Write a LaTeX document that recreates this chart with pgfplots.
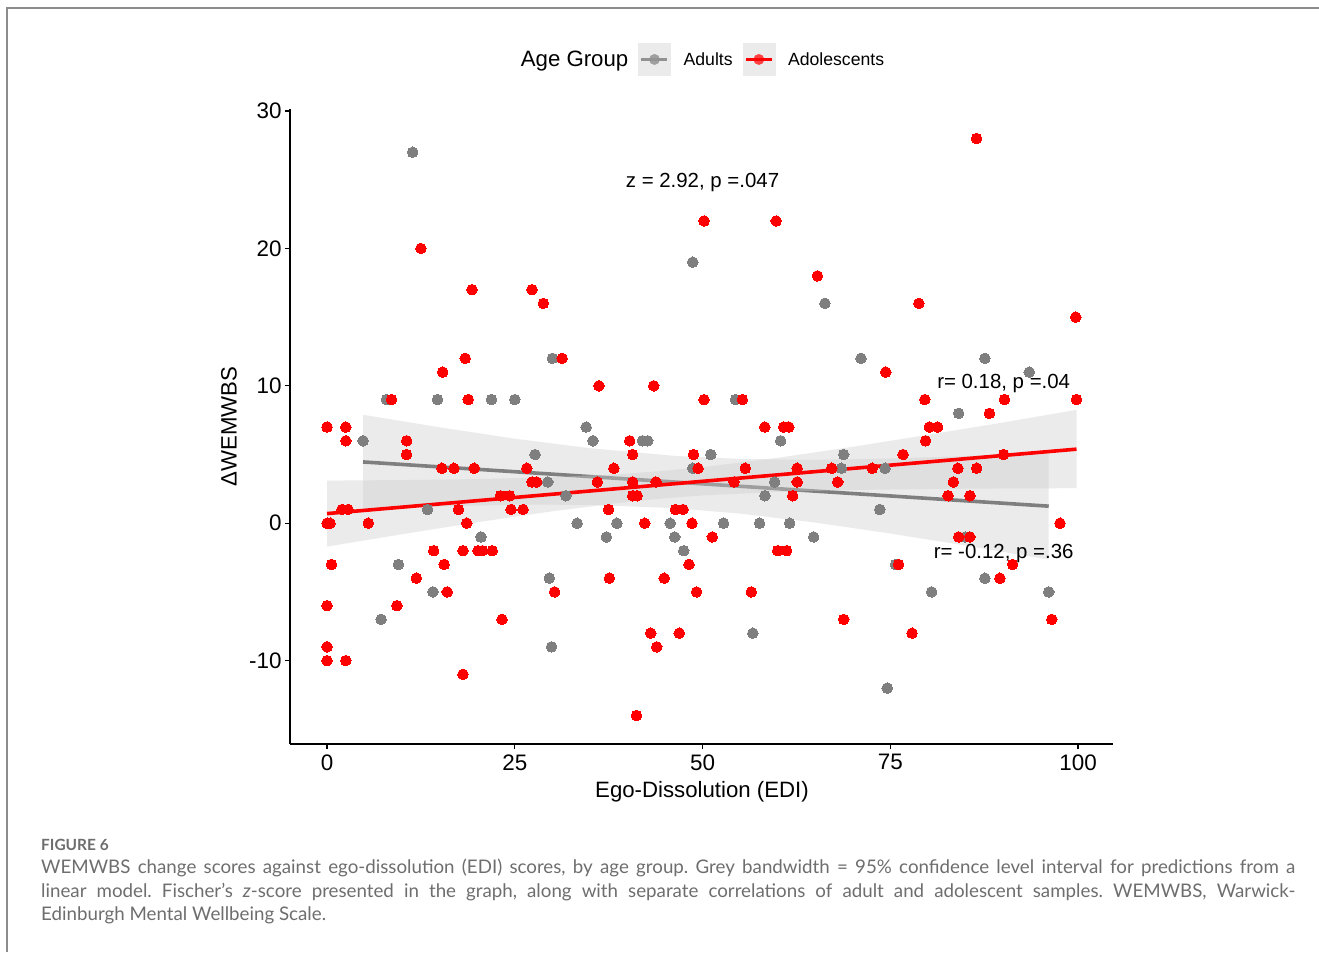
\documentclass[border=0pt]{standalone}
\usepackage{pgfplots}
\pgfplotsset{compat=1.18}
\usepackage{fontspec}
\setmainfont{Liberation Sans}
\newfontfamily\capfont{Lato}
\definecolor{adultgrey}{RGB}{127,127,127}
\definecolor{adolred}{RGB}{255,0,0}
\definecolor{bandfill}{RGB}{205,205,205}
\definecolor{keybg}{RGB}{235,235,235}
\definecolor{capgrey}{RGB}{110,110,110}
\definecolor{framegrey}{RGB}{140,140,140}
\begin{document}
\frenchspacing
\begin{tikzpicture}[x=1bp,y=1bp]
\useasboundingbox (0,0) rectangle (1319,952);
\fill[white] (0,0) rectangle (1319,952);
\draw[framegrey, line width=1.3bp] (7,0) -- (7,944) -- (1319,944);
\begin{axis}[
  at={(290bp,208bp)}, anchor=south west,
  scale only axis, width=823bp, height=635bp,
  xmin=-4.93, xmax=104.66, ymin=-16.07, ymax=30.15,
  axis lines=left, axis line style={-, line width=1.4bp, black},
  xtick={0,25,50,75,100}, ytick={-10,0,10,20,30},
  tick align=outside, major tick length=5bp, tick style={line width=1.2bp, black},
  ticklabel style={font=\fontsize{22.5}{24}\selectfont},
  xticklabel style={yshift=-2bp},
  /pgf/number format/assume math mode=true,
  xlabel={Ego-Dissolution (EDI)}, ylabel={ΔWEMWBS},
  label style={font=\fontsize{22.3}{24}\selectfont},
  xlabel style={at={(axis description cs:0.5006,-0.0835)}, anchor=base},
  ylabel style={at={(axis description cs:-0.0741,0.5)}, anchor=center},
  legend style={at={(axis description cs:0.4945,1.078)}, anchor=center,
    draw=none, fill=none, legend columns=-1,
    font=\fontsize{17.7}{20}\selectfont,
    /tikz/every odd column/.append style={column sep=11bp},
    /tikz/every even column/.append style={column sep=8bp},
    /tikz/column 1/.append style={column sep=0pt}},
]
% Adults
\addplot[only marks, mark=*, color=adultgrey, mark size=5.3bp, mark options={fill=adultgrey, draw=adultgrey, line width=0pt}, forget plot] coordinates {
(11.4,27) (30.0,12) (7.9,9) (14.7,9) (21.9,9) (25.0,9) (48.7,19) (66.3,16)
(54.4,9) (34.5,7) (71.1,12) (87.6,12) (93.5,11) (84.1,8) (4.8,6) (27.7,5)
(29.4,3) (31.8,2) (13.4,1) (20.5,-1) (9.5,-3) (29.6,-4) (14.1,-5) (7.2,-7)
(29.9,-9) (35.4,6) (42.0,6) (42.7,6) (60.4,6) (51.1,5) (48.7,4) (59.6,3) (58.3,2)
(33.3,0) (38.6,0) (45.7,0) (52.8,0) (57.6,0) (61.6,0) (37.2,-1) (46.3,-1)
(64.8,-1) (47.5,-2) (56.7,-8) (68.8,5) (68.5,4) (74.3,4) (73.6,1) (85.0,-1)
(75.7,-3) (87.6,-4) (80.5,-5) (96.1,-5) (74.6,-12)
};
% Adolescents
\addplot[only marks, mark=*, color=adolred, mark size=5.3bp, mark options={fill=adolred, draw=adolred, line width=0pt}, forget plot] coordinates {
(12.5,20) (19.3,17) (27.3,17) (28.8,16) (18.4,12) (31.3,12) (15.4,11) (8.6,9)
(18.8,9) (0,7) (2.5,7) (50.2,22) (59.8,22) (65.3,18) (36.2,10) (43.5,10)
(50.2,9) (55.3,9) (58.3,7) (60.8,7) (61.5,7) (86.5,28) (78.8,16) (99.7,15)
(74.4,11) (79.6,9) (90.2,9) (99.8,9) (88.2,8) (80.2,7) (81.3,7) (2.5,6)
(10.6,6) (10.6,5) (15.3,4) (16.9,4) (19.6,4) (26.6,4) (27.3,3) (27.9,3)
(23.1,2) (24.3,2) (2.0,1) (2.8,1) (17.5,1) (24.5,1) (26.1,1) (0,0) (0.4,0)
(5.5,0) (18.6,0) (14.2,-2) (18.1,-2) (20.1,-2) (20.7,-2) (22.0,-2) (0.6,-3)
(15.6,-3) (11.9,-4) (16.0,-5) (30.3,-5) (0,-6) (9.3,-6) (23.3,-7) (0,-9)
(0,-10) (2.5,-10) (18.1,-11) (40.3,6) (40.7,5) (48.8,5) (38.2,4) (49.4,4)
(55.7,4) (62.6,4) (67.2,4) (36.0,3) (40.7,3) (43.8,3) (54.2,3) (62.6,3)
(68.0,3) (40.7,2) (41.3,2) (62.0,2) (37.5,1) (46.4,1) (47.4,1) (42.3,0)
(48.6,0) (51.3,-1) (60.0,-2) (61.2,-2) (48.2,-3) (37.6,-4) (44.9,-4) (49.2,-5)
(56.5,-5) (43.1,-8) (46.9,-8) (43.9,-9) (41.2,-14) (79.7,6) (76.7,5) (90.1,5)
(72.6,4) (84.0,4) (86.5,4) (83.4,3) (82.7,2) (85.6,2) (97.6,0) (84.1,-1)
(85.6,-1) (76.1,-3) (91.3,-3) (89.6,-4) (68.8,-7) (96.5,-7) (77.9,-8)
};
% Adults confidence band and fit
\addplot[fill=bandfill, fill opacity=0.4, draw=none, forget plot] coordinates {
(4.8,7.89) (15,6.98) (25,6.15) (35,5.46) (46.5,4.89) (55,4.68) (65,4.61) (75,4.71) (85,4.88) (96.1,5.13)
(96.1,-2.65) (85,-1.62) (75,-0.75) (65,0.05) (55,0.70) (46.5,1.09) (35,1.34) (25,1.35) (15,1.22) (4.8,1.03)
} -- cycle;
\addplot[adultgrey, line width=3.6bp, forget plot] coordinates {(4.8,4.46) (96.1,1.24)};
% Adolescents confidence band and fit
\addplot[fill=bandfill, fill opacity=0.4, draw=none, forget plot] coordinates {
(0,3.10) (10,3.14) (20,3.21) (30,3.35) (40,3.61) (45,3.82) (50,4.08) (60,4.76) (70,5.56) (80,6.43) (90,7.33) (99.8,8.25)
(99.8,2.55) (90,2.53) (80,2.49) (70,2.42) (60,2.28) (50,2.02) (45,1.82) (40,1.55) (30,0.87) (20,0.07) (10,-0.80) (0,-1.70)
} -- cycle;
\addplot[adolred, line width=3.6bp, forget plot] coordinates {(0,0.70) (99.8,5.39)};
% annotations
\node[font=\fontsize{20.5}{22}\selectfont] at (axis cs:50,24.8) {z = 2.92, p =.047};
\node[font=\fontsize{20.5}{22}\selectfont] at (axis cs:90.1,10.2) {r= 0.18, p =.04};
\node[font=\fontsize{20.5}{22}\selectfont] at (axis cs:90.1,-2.2) {r= -0.12, p =.36};
% legend
\addlegendimage{empty legend}
\addlegendentry{\fontsize{22.3}{24}\selectfont Age Group}
\addlegendimage{legend image code/.code={
  \fill[keybg] (0bp,-16bp) rectangle (32bp,16bp);
  \fill[adultgrey!75!white] (16bp,0bp) circle (5.2bp);
  \draw[adultgrey!85!white, line width=3.5bp] (3bp,0bp) -- (29bp,0bp);
}}
\addlegendentry{Adults}
\addlegendimage{legend image code/.code={
  \fill[keybg] (0bp,-16bp) rectangle (32bp,16bp);
  \fill[adolred!75!white] (16bp,0bp) circle (5.2bp);
  \draw[adolred, line width=3.5bp] (3bp,0bp) -- (29bp,0bp);
}}
\addlegendentry{Adolescents}
\end{axis}
\node[anchor=base west, inner sep=0pt, text=capgrey, font=\capfont\bfseries\fontsize{15.5}{17}\selectfont] at (41,102) {FIGURE 6};
\node[anchor=north west, inner sep=0pt, text width=1254bp, align=justify, text=capgrey, font=\capfont\fontsize{18.8}{23.5}\selectfont] at (41,93) {WEMWBS change scores against ego-dissolution (EDI) scores, by age group. Grey bandwidth = 95\% confidence level interval for predictions from a\linebreak linear model. Fischer’s \textit{z}-score presented in the graph, along with separate correlations of adult and adolescent samples. WEMWBS, Warwick-\linebreak Edinburgh Mental Wellbeing Scale.};
\end{tikzpicture}
\end{document}
